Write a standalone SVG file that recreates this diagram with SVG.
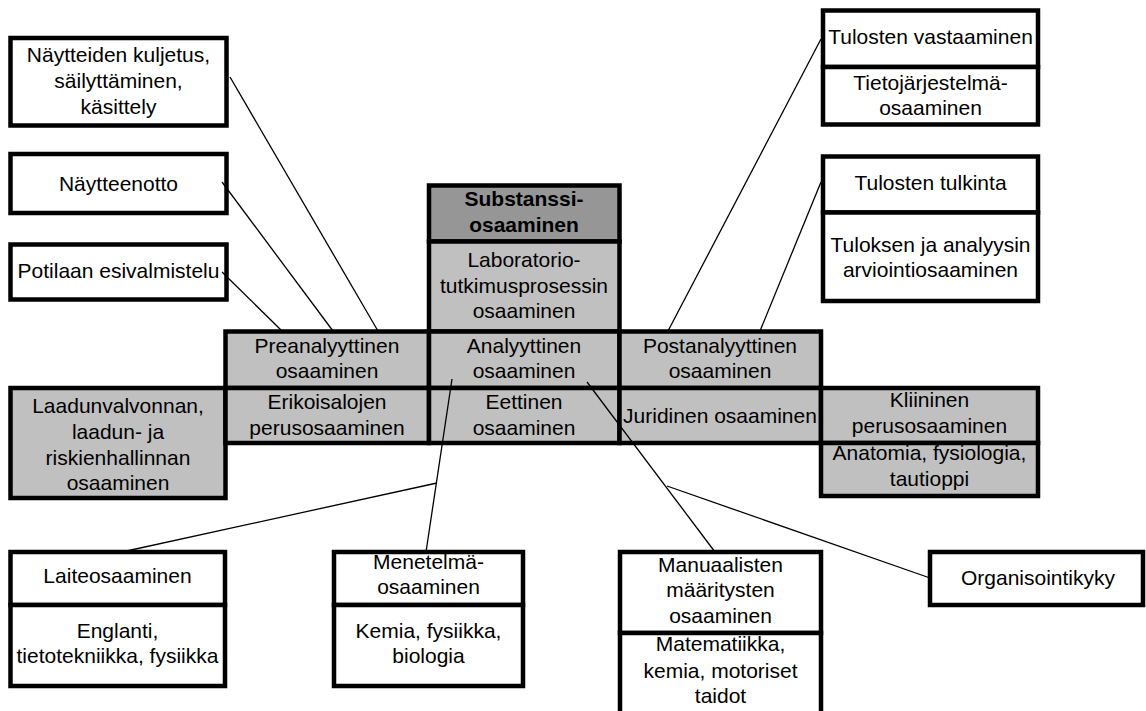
<svg xmlns="http://www.w3.org/2000/svg" width="1146" height="711" viewBox="0 0 1146 711">
  <style>
    .box { stroke: #000; stroke-width: 4.5; fill: #fff; }
    .lt { fill: #c0c0c0; }
    .dk { fill: #969696; }
    text { font-family: "Liberation Sans", Arial, sans-serif; font-size: 21px; fill: #000; text-anchor: middle; }
    .b { font-weight: bold; }
    .conn line { stroke: #000; stroke-width: 1.3; }
  </style>
  <rect x="0" y="0" width="1146" height="711" fill="#fff"/>

  <!-- left column: pre-analytical tasks -->
  <g id="n-kuljetus">
    <rect class="box" x="10.5" y="38" width="216" height="87.5"/>
    <text x="118.5" y="62">Näytteiden kuljetus,</text>
    <text x="118.5" y="88">säilyttäminen,</text>
    <text x="118.5" y="114">käsittely</text>
  </g>
  <g id="n-naytteenotto">
    <rect class="box" x="10.5" y="154" width="216" height="59"/>
    <text x="118.5" y="191">Näytteenotto</text>
  </g>
  <g id="n-potilas">
    <rect class="box" x="10.5" y="244.5" width="216" height="55"/>
    <text x="118.5" y="278">Potilaan esivalmistelu</text>
  </g>

  <!-- central column -->
  <g id="n-substanssi">
    <rect class="box dk" x="429" y="185.5" width="190.5" height="56"/>
    <text class="b" x="524" y="206">Substanssi-</text>
    <text class="b" x="524" y="232">osaaminen</text>
  </g>
  <g id="n-laboratorio">
    <rect class="box lt" x="429" y="241.5" width="190.5" height="90"/>
    <text x="524" y="267">Laboratorio-</text>
    <text x="524" y="293">tutkimusprosessin</text>
    <text x="524" y="318">osaaminen</text>
  </g>

  <!-- process row -->
  <g id="n-preanalyyttinen">
    <rect class="box lt" x="225.5" y="331.5" width="203.5" height="56.5"/>
    <text x="327" y="353">Preanalyyttinen</text>
    <text x="327" y="378">osaaminen</text>
  </g>
  <g id="n-analyyttinen">
    <rect class="box lt" x="429" y="331.5" width="190.5" height="56.5"/>
    <text x="524" y="353">Analyyttinen</text>
    <text x="524" y="378">osaaminen</text>
  </g>
  <g id="n-postanalyyttinen">
    <rect class="box lt" x="619.5" y="331.5" width="201.5" height="56.5"/>
    <text x="720" y="353">Postanalyyttinen</text>
    <text x="720" y="378">osaaminen</text>
  </g>

  <!-- foundation row -->
  <g id="n-laadunvalvonta">
    <rect class="box lt" x="10.5" y="388" width="215" height="110"/>
    <text x="118" y="413">Laadunvalvonnan,</text>
    <text x="118" y="439">laadun- ja</text>
    <text x="118" y="465">riskienhallinnan</text>
    <text x="118" y="490">osaaminen</text>
  </g>
  <g id="n-erikoisalat">
    <rect class="box lt" x="225.5" y="388" width="203.5" height="55"/>
    <text x="327" y="409">Erikoisalojen</text>
    <text x="327" y="435">perusosaaminen</text>
  </g>
  <g id="n-eettinen">
    <rect class="box lt" x="429" y="388" width="190.5" height="55"/>
    <text x="524" y="409">Eettinen</text>
    <text x="524" y="435">osaaminen</text>
  </g>
  <g id="n-juridinen">
    <rect class="box lt" x="619.5" y="388" width="201.5" height="55"/>
    <text x="720" y="423">Juridinen osaaminen</text>
  </g>
  <g id="n-kliininen">
    <rect class="box lt" x="821" y="388" width="217" height="55"/>
    <text x="929.5" y="407">Kliininen</text>
    <text x="929.5" y="433">perusosaaminen</text>
    <rect class="box lt" x="821" y="443" width="217" height="53"/>
    <text x="929.5" y="460">Anatomia, fysiologia,</text>
    <text x="929.5" y="486">tautioppi</text>
  </g>

  <!-- right column: post-analytical tasks -->
  <g id="n-vastaaminen">
    <rect class="box" x="823" y="10.5" width="215" height="56.5"/>
    <text x="930.5" y="44">Tulosten vastaaminen</text>
    <rect class="box" x="823" y="67" width="215" height="57.5"/>
    <text x="930.5" y="90">Tietojärjestelmä-</text>
    <text x="930.5" y="115">osaaminen</text>
  </g>
  <g id="n-tulkinta">
    <rect class="box" x="823" y="156.5" width="215" height="56"/>
    <text x="930.5" y="190">Tulosten tulkinta</text>
    <rect class="box" x="823" y="212.5" width="215" height="88.5"/>
    <text x="930.5" y="252">Tuloksen ja analyysin</text>
    <text x="930.5" y="277">arviointiosaaminen</text>
  </g>

  <!-- bottom row: analytical skills -->
  <g id="n-laiteosaaminen">
    <rect class="box" x="10.5" y="552" width="214.5" height="53"/>
    <text x="117.5" y="583">Laiteosaaminen</text>
    <rect class="box" x="10.5" y="605" width="214.5" height="81"/>
    <text x="117.5" y="638">Englanti,</text>
    <text x="117.5" y="663">tietotekniikka, fysiikka</text>
  </g>
  <g id="n-menetelma">
    <rect class="box" x="334" y="552" width="189" height="53"/>
    <text x="428.5" y="569">Menetelmä-</text>
    <text x="428.5" y="594">osaaminen</text>
    <rect class="box" x="334" y="605" width="189" height="81"/>
    <text x="428.5" y="638">Kemia, fysiikka,</text>
    <text x="428.5" y="663">biologia</text>
  </g>
  <g id="n-manuaaliset">
    <rect class="box" x="620" y="552" width="201" height="81"/>
    <text x="720.5" y="572">Manuaalisten</text>
    <text x="720.5" y="597">määritysten</text>
    <text x="720.5" y="623">osaaminen</text>
    <rect class="box" x="620" y="633" width="201" height="90"/>
    <text x="720.5" y="651">Matematiikka,</text>
    <text x="720.5" y="678">kemia, motoriset</text>
    <text x="720.5" y="703">taidot</text>
  </g>
  <g id="n-organisointi">
    <rect class="box" x="930" y="552" width="213" height="53"/>
    <text x="1038" y="585">Organisointikyky</text>
  </g>

  <!-- connectors -->
  <g class="conn" id="connectors">
    <line x1="230" y1="77" x2="378" y2="331"/>
    <line x1="222" y1="182" x2="333" y2="331"/>
    <line x1="222" y1="272" x2="282" y2="331"/>
    <line x1="821" y1="39" x2="668" y2="331"/>
    <line x1="821" y1="182" x2="760" y2="331"/>
    <line x1="452" y1="379" x2="426" y2="552"/>
    <line x1="437" y1="483" x2="122" y2="552"/>
    <line x1="587" y1="382" x2="715" y2="552"/>
    <line x1="667" y1="486" x2="930" y2="578"/>
  </g>
</svg>
